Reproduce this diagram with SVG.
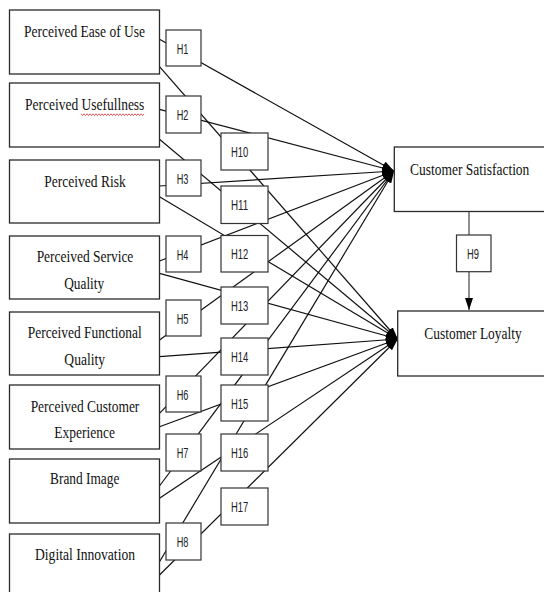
<svg xmlns="http://www.w3.org/2000/svg" width="544" height="592" viewBox="0 0 544 592">
<defs>
<marker id="ah" markerUnits="userSpaceOnUse" markerWidth="12" markerHeight="8" refX="12" refY="4" orient="auto">
<path d="M0,0 L12,4 L0,8 z" fill="#000"/>
</marker>
<style>
.box{fill:#fff;stroke:#2a2a2a;stroke-width:1.3}
.hbox{fill:#fff;stroke:#333;stroke-width:1.2}
.lbl{font-family:"Liberation Serif","Times New Roman",serif;font-size:17.5px;fill:#111;text-anchor:middle}
.h{font-family:"Liberation Sans",Arial,sans-serif;font-size:14px;fill:#222}
.cn{stroke:#111;stroke-width:1.2;fill:none}
.cs{marker-end:url(#ah)}
</style>
</defs>
<rect width="544" height="592" fill="#fff"/>
<g id="connectors">
<path class="cn cs" d="M159.5,39.3 L394,171"/>
<path class="cn cs" d="M159.5,109.3 L394,171"/>
<path class="cn cs" d="M159.5,186 L394,171"/>
<path class="cn cs" d="M159.5,261 L394,171"/>
<path class="cn cs" d="M159.5,340 L394,171"/>
<path class="cn cs" d="M159.5,413.3 L394,171"/>
<path class="cn cs" d="M159.5,486 L394,171"/>
<path class="cn cs" d="M159.5,561.7 L394,171"/>
<path class="cn cs" d="M159.5,66.7 L397.7,339"/>
<path class="cn cs" d="M159.5,139.3 L397.7,339"/>
<path class="cn cs" d="M159.5,196.7 L397.7,339"/>
<path class="cn cs" d="M159.5,273.3 L397.7,339"/>
<path class="cn cs" d="M159.5,356.7 L397.7,339"/>
<path class="cn cs" d="M159.5,426.7 L397.7,339"/>
<path class="cn cs" d="M159.5,498.3 L397.7,339"/>
<path class="cn cs" d="M159.5,575 L397.7,339"/>
<path d="M469,211.5 L469,235" stroke="#444" stroke-width="1.2" fill="none"/>
<path d="M469,271.7 L469,310" stroke="#444" stroke-width="1.2" fill="none" marker-end="url(#ah)"/>
</g>
<g id="peou"><rect class="box" x="9.5" y="10" width="150" height="64"/><text class="lbl" x="84.5" y="36.5" textLength="121" lengthAdjust="spacingAndGlyphs">Perceived Ease of Use</text></g>
<g id="pu"><rect class="box" x="9.5" y="83" width="150" height="64"/><text class="lbl" x="84.7" y="110" textLength="119.3" lengthAdjust="spacingAndGlyphs">Perceived Usefullness</text>
<path d="M81,113.8 l1.5,1.8 l1.5,-1.8 l1.5,1.8 l1.5,-1.8 l1.5,1.8 l1.5,-1.8 l1.5,1.8 l1.5,-1.8 l1.5,1.8 l1.5,-1.8 l1.5,1.8 l1.5,-1.8 l1.5,1.8 l1.5,-1.8 l1.5,1.8 l1.5,-1.8 l1.5,1.8 l1.5,-1.8 l1.5,1.8 l1.5,-1.8 l1.5,1.8 l1.5,-1.8 l1.5,1.8 l1.5,-1.8 l1.5,1.8 l1.5,-1.8 l1.5,1.8 l1.5,-1.8 l1.5,1.8 l1.5,-1.8 l1.5,1.8 l1.5,-1.8 l1.5,1.8 l1.5,-1.8 l1.5,1.8 l1.5,-1.8 l1.5,1.8 l1.5,-1.8 l1.5,1.8 l1.5,-1.8 l1.5,1.8 l1.5,-1.8" stroke="#e03030" stroke-width="0.8" fill="none"/></g>
<g id="pr"><rect class="box" x="9.5" y="160" width="150" height="63"/><text class="lbl" x="85" y="186.5" textLength="81.4" lengthAdjust="spacingAndGlyphs">Perceived Risk</text></g>
<g id="psq"><rect class="box" x="9.5" y="236" width="150" height="63"/><text class="lbl" x="85" y="261.5" textLength="96.7" lengthAdjust="spacingAndGlyphs">Perceived Service</text><text class="lbl" x="84.2" y="288.5" textLength="40" lengthAdjust="spacingAndGlyphs">Quality</text></g>
<g id="pfq"><rect class="box" x="9.5" y="312" width="150" height="63"/><text class="lbl" x="84.7" y="337.5" textLength="114" lengthAdjust="spacingAndGlyphs">Perceived Functional</text><text class="lbl" x="84.7" y="365" textLength="40.7" lengthAdjust="spacingAndGlyphs">Quality</text></g>
<g id="pce"><rect class="box" x="9.5" y="385" width="150" height="64"/><text class="lbl" x="85" y="411.5" textLength="108.7" lengthAdjust="spacingAndGlyphs">Perceived Customer</text><text class="lbl" x="84.7" y="437.5" textLength="60.7" lengthAdjust="spacingAndGlyphs">Experience</text></g>
<g id="bi"><rect class="box" x="9.5" y="459" width="150" height="64"/><text class="lbl" x="84.7" y="483.5" textLength="69.3" lengthAdjust="spacingAndGlyphs">Brand Image</text></g>
<g id="di"><rect class="box" x="9.5" y="534" width="150" height="70"/><text class="lbl" x="85" y="560" textLength="100" lengthAdjust="spacingAndGlyphs">Digital Innovation</text></g>
<g id="cs"><rect class="box" x="394.3" y="147" width="152" height="64.5"/><text class="lbl" x="469.7" y="175" textLength="119.3" lengthAdjust="spacingAndGlyphs">Customer Satisfaction</text></g>
<g id="cl"><rect class="box" x="397.7" y="311" width="149" height="65"/><text class="lbl" x="473" y="338.5" textLength="97.3" lengthAdjust="spacingAndGlyphs">Customer Loyalty</text></g>
<g id="h1"><rect class="hbox" x="166" y="30" width="35" height="36"/><text class="h" x="176.7" y="53.5" textLength="11.7" lengthAdjust="spacingAndGlyphs">H1</text></g>
<g id="h2"><rect class="hbox" x="166" y="96" width="35" height="37"/><text class="h" x="176.7" y="119.5" textLength="11.7" lengthAdjust="spacingAndGlyphs">H2</text></g>
<g id="h3"><rect class="hbox" x="166" y="160" width="35" height="36"/><text class="h" x="176.7" y="183.5" textLength="11.7" lengthAdjust="spacingAndGlyphs">H3</text></g>
<g id="h4"><rect class="hbox" x="166" y="236" width="35" height="36"/><text class="h" x="176.7" y="259.5" textLength="11.7" lengthAdjust="spacingAndGlyphs">H4</text></g>
<g id="h5"><rect class="hbox" x="166" y="300" width="35" height="36"/><text class="h" x="176.7" y="323.5" textLength="11.7" lengthAdjust="spacingAndGlyphs">H5</text></g>
<g id="h6"><rect class="hbox" x="166" y="376" width="35" height="36"/><text class="h" x="176.7" y="399.5" textLength="11.7" lengthAdjust="spacingAndGlyphs">H6</text></g>
<g id="h7"><rect class="hbox" x="166" y="434" width="35" height="37"/><text class="h" x="176.7" y="457.5" textLength="11.7" lengthAdjust="spacingAndGlyphs">H7</text></g>
<g id="h8"><rect class="hbox" x="166" y="523" width="35" height="37"/><text class="h" x="176.7" y="546.5" textLength="11.7" lengthAdjust="spacingAndGlyphs">H8</text></g>
<g id="h9"><rect class="hbox" x="456.5" y="235" width="34.5" height="36.7"/><text class="h" x="467" y="259" textLength="12" lengthAdjust="spacingAndGlyphs">H9</text></g>
<g id="h10"><rect class="hbox" x="221" y="133" width="47" height="37"/><text class="h" x="231" y="156.5" textLength="17.3" lengthAdjust="spacingAndGlyphs">H10</text></g>
<g id="h11"><rect class="hbox" x="221" y="186" width="47" height="37.5"/><text class="h" x="231" y="209.5" textLength="17.3" lengthAdjust="spacingAndGlyphs">H11</text></g>
<g id="h12"><rect class="hbox" x="221" y="235.5" width="47" height="36.5"/><text class="h" x="231" y="259" textLength="17.3" lengthAdjust="spacingAndGlyphs">H12</text></g>
<g id="h13"><rect class="hbox" x="221" y="287" width="47" height="37"/><text class="h" x="231" y="310.5" textLength="17.3" lengthAdjust="spacingAndGlyphs">H13</text></g>
<g id="h14"><rect class="hbox" x="221" y="338" width="47" height="37"/><text class="h" x="231" y="361.5" textLength="17.3" lengthAdjust="spacingAndGlyphs">H14</text></g>
<g id="h15"><rect class="hbox" x="221" y="385" width="47" height="36"/><text class="h" x="231" y="408.5" textLength="17.3" lengthAdjust="spacingAndGlyphs">H15</text></g>
<g id="h16"><rect class="hbox" x="221" y="434" width="47" height="37"/><text class="h" x="231" y="457.5" textLength="17.3" lengthAdjust="spacingAndGlyphs">H16</text></g>
<g id="h17"><rect class="hbox" x="221" y="488" width="47" height="37"/><text class="h" x="231" y="511.5" textLength="17.3" lengthAdjust="spacingAndGlyphs">H17</text></g>
</svg>
